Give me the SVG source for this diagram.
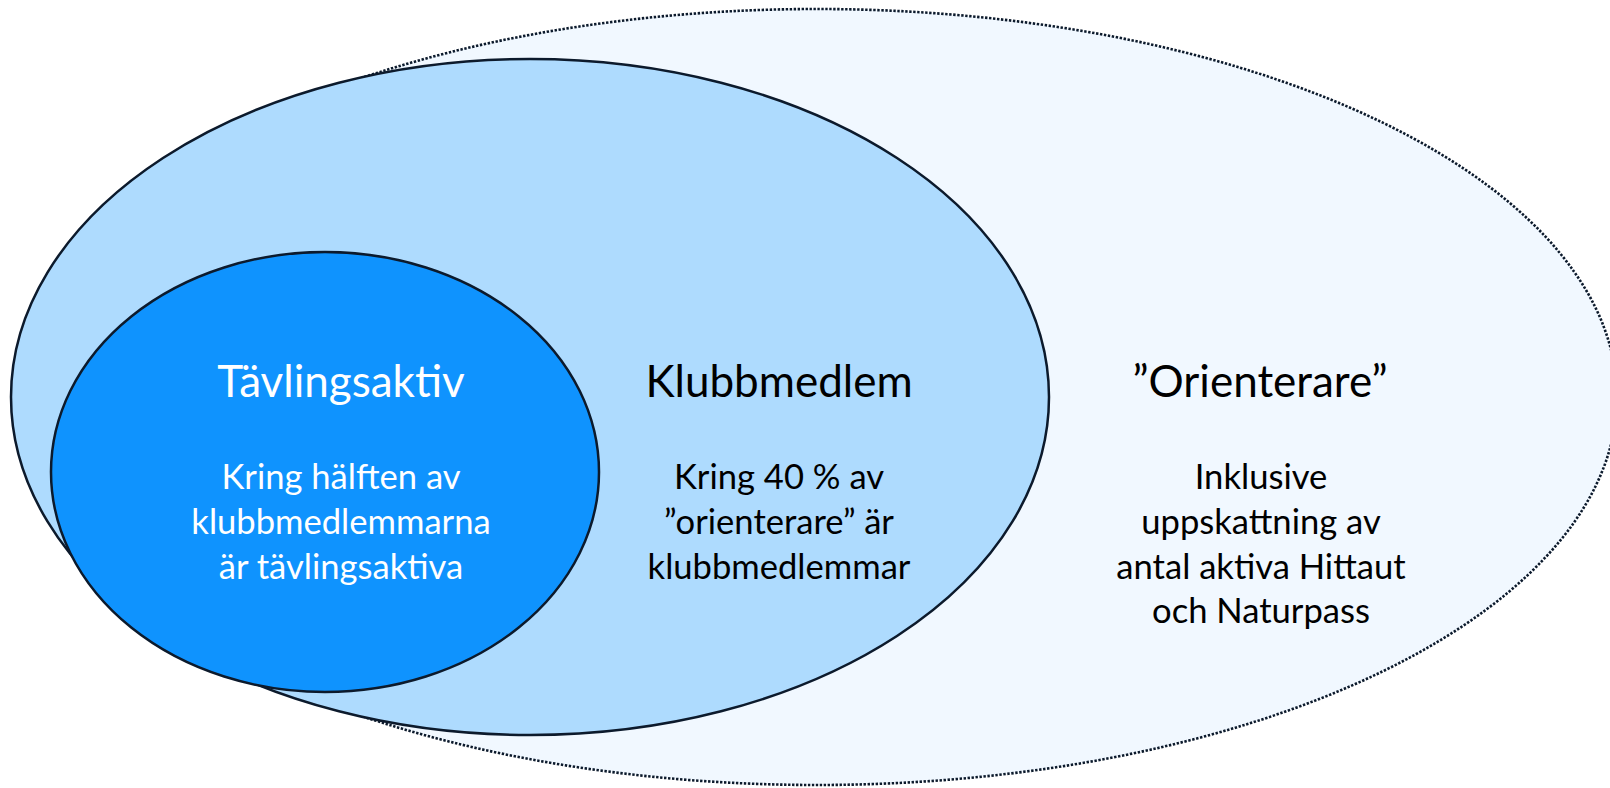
<svg xmlns="http://www.w3.org/2000/svg" width="1610" height="788" viewBox="0 0 1610 788">
<style>
.ell{stroke:#0c1a2c;stroke-width:2.5}
.outer{fill:#f1f8ff;stroke:#0c1a2c;stroke-width:2.6;stroke-dasharray:2.4 1.6}
.mid{fill:#aedbfe}
.inner{fill:#0f93fe}
text{font-family:Lato,"Open Sans","Liberation Sans",sans-serif;text-anchor:middle}
.title{font-size:44px}
.sub{font-size:34.6px}
.w{fill:#ffffff}
.b{fill:#000000}
</style>
<rect width="1610" height="788" fill="#ffffff"/>
<g id="orienterare">
<ellipse class="outer" cx="817" cy="397" rx="800" ry="388"/>
</g>
<g id="klubbmedlem">
<ellipse class="ell mid" cx="530" cy="397" rx="519" ry="338"/>
</g>
<g id="tavlingsaktiv">
<ellipse class="ell inner" cx="325" cy="472" rx="274" ry="220"/>
</g>
<g id="labels-tavlingsaktiv">
<text class="title w" x="341" y="397">Tävlingsaktiv</text>
<text class="sub w" x="341" y="489">Kring hälften av</text>
<text class="sub w" x="341" y="534">klubbmedlemmarna</text>
<text class="sub w" x="341" y="579">är tävlingsaktiva</text>
</g>
<g id="labels-klubbmedlem">
<text class="title b" x="779" y="397">Klubbmedlem</text>
<text class="sub b" x="779" y="489">Kring 40 % av</text>
<text class="sub b" x="779" y="534">”orienterare” är</text>
<text class="sub b" x="779" y="579">klubbmedlemmar</text>
</g>
<g id="labels-orienterare">
<text class="title b" x="1260" y="397">”Orienterare”</text>
<text class="sub b" x="1261" y="489">Inklusive</text>
<text class="sub b" x="1261" y="534">uppskattning av</text>
<text class="sub b" x="1261" y="579">antal aktiva Hittaut</text>
<text class="sub b" x="1261" y="623">och Naturpass</text>
</g>
<g id="connectors"/>
</svg>
